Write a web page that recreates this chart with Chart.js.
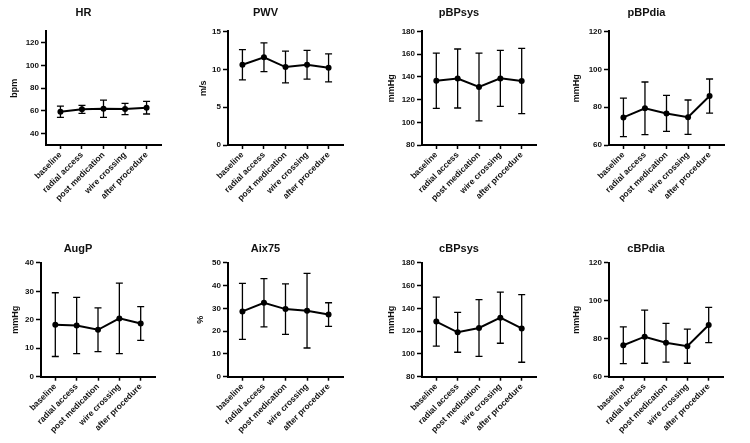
<!DOCTYPE html>
<html><head><meta charset="utf-8">
<script src="https://cdn.jsdelivr.net/npm/chart.js@4.4.1/dist/chart.umd.min.js"></script>
<style>
html,body{margin:0;padding:0;background:#fff;width:750px;height:443px;overflow:hidden}
canvas{position:absolute}
</style></head><body>
<script>
const categories = ['baseline', 'radial access', 'post medication', 'wire crossing', 'after procedure'];

const hrMean = [59.3, 61.4, 62.0, 61.7, 62.9];
const hrSD = [5.0, 3.5, 7.6, 4.9, 5.6];
const hrTicks = [40, 60, 80, 100, 120];

const pwvMean = [10.6, 11.6, 10.3, 10.6, 10.2];
const pwvSD = [2.0, 1.9, 2.1, 1.9, 1.85];
const pwvTicks = [0, 5, 10, 15];

const pbpsysMean = [136.6, 138.6, 131.1, 138.7, 136.4];
const pbpsysSD = [24.3, 26.0, 29.8, 24.6, 28.7];
const pbpsysTicks = [80, 100, 120, 140, 160, 180];

const pbpdiaMean = [74.6, 79.4, 76.7, 74.7, 85.9];
const pbpdiaSD = [10.2, 13.9, 9.5, 9.1, 9.0];
const pbpdiaTicks = [60, 80, 100, 120];

const augpMean = [18.3, 18.0, 16.5, 20.5, 18.7];
const augpSD = [11.2, 9.9, 7.7, 12.4, 5.9];
const augpTicks = [0, 10, 20, 30, 40];

const aixMean = [28.7, 32.5, 29.7, 29.0, 27.3];
const aixSD = [12.3, 10.6, 11.1, 16.4, 5.2];
const aixTicks = [0, 10, 20, 30, 40, 50];

const cbpsysMean = [128.4, 119.0, 122.8, 131.9, 122.4];
const cbpsysSD = [21.5, 17.5, 24.9, 22.5, 29.7];
const cbpsysTicks = [80, 100, 120, 140, 160, 180];

const cbpdiaMean = [76.6, 81.1, 77.9, 76.1, 87.3];
const cbpdiaSD = [9.7, 14.0, 10.2, 9.0, 9.3];
const cbpdiaTicks = [60, 80, 100, 120];

const F = '"Liberation Sans", Arial, Helvetica, sans-serif';

const panels = [
  {title:'HR', yTitle:'bpm', mean:hrMean, sd:hrSD, ticks:hrTicks, min:30, max:130, row:0, axisL:46, axisR:160.5, yDist:31},
  {title:'PWV', yTitle:'m/s', mean:pwvMean, sd:pwvSD, ticks:pwvTicks, min:0, max:15, row:0, axisL:227.7, axisR:343, yDist:24.4},
  {title:'pBPsys', yTitle:'mmHg', mean:pbpsysMean, sd:pbpsysSD, ticks:pbpsysTicks, min:80, max:180, row:0, axisL:421.7, axisR:536, yDist:30.7},
  {title:'pBPdia', yTitle:'mmHg', mean:pbpdiaMean, sd:pbpdiaSD, ticks:pbpdiaTicks, min:60, max:120, row:0, axisL:608.5, axisR:723.3, yDist:32.5},
  {title:'AugP', yTitle:'mmHg', mean:augpMean, sd:augpSD, ticks:augpTicks, min:0, max:40, row:1, axisL:40.7, axisR:155, yDist:25.7},
  {title:'Aix75', yTitle:'%', mean:aixMean, sd:aixSD, ticks:aixTicks, min:0, max:50, row:1, axisL:227.7, axisR:342.7, yDist:27},
  {title:'cBPsys', yTitle:'mmHg', mean:cbpsysMean, sd:cbpsysSD, ticks:cbpsysTicks, min:80, max:180, row:1, axisL:421.7, axisR:536, yDist:30},
  {title:'cBPdia', yTitle:'mmHg', mean:cbpdiaMean, sd:cbpdiaSD, ticks:cbpdiaTicks, min:60, max:120, row:1, axisL:609, axisR:723.3, yDist:32}
];

const rows = [
  {top:0, height:221, titleCenter:13.3, areaTop:31.5, areaBottom:145},
  {top:221, height:222, titleCenter:28.3, areaTop:41.9, areaBottom:155.7}
];

const errorBars = {
  id: 'errorBars',
  beforeDatasetsDraw(chart) {
    const ctx = chart.ctx, xs = chart.scales.x, ys = chart.scales.y;
    const ds = chart.data.datasets[0];
    ctx.save();
    ctx.strokeStyle = '#000';
    ctx.lineWidth = 1.3;
    ds.data.forEach((pt, i) => {
      const x = xs.getPixelForValue(pt.x);
      const yt = ys.getPixelForValue(pt.y + ds.errors[i]);
      const yb = ys.getPixelForValue(pt.y - ds.errors[i]);
      ctx.beginPath();
      ctx.moveTo(x, yt); ctx.lineTo(x, yb);
      ctx.moveTo(x - 3.5, yt); ctx.lineTo(x + 3.5, yt);
      ctx.moveTo(x - 3.5, yb); ctx.lineTo(x + 3.5, yb);
      ctx.stroke();
    });
    ctx.restore();
  }
};

const YW = 40;
panels.forEach(p => {
  const r = rows[p.row];
  const cv = document.createElement('canvas');
  const left = p.axisL - YW;
  const w = Math.round(p.axisR - left + 4);
  cv.width = w; cv.height = r.height;
  cv.style.left = left + 'px'; cv.style.top = r.top + 'px';
  cv.style.width = w + 'px'; cv.style.height = r.height + 'px';
  document.body.appendChild(cv);
  const titleLH = 11 * 1.2;
  const tPadTop = r.titleCenter - titleLH / 2;
  const tPadBottom = r.areaTop - tPadTop - titleLH;
  const xH = r.height - r.areaBottom;
  const yTitleLH = 9 * 1.2;
  const yTitlePad = YW - p.yDist - yTitleLH / 2;
  new Chart(cv, {
    type: 'line',
    data: {
      datasets: [{
        data: p.mean.map((v, i) => ({x: i, y: v})),
        errors: p.sd,
        borderColor: '#000', backgroundColor: '#000', borderWidth: 2,
        pointRadius: 3, pointBackgroundColor: '#000', pointBorderWidth: 0,
        tension: 0
      }]
    },
    options: {
      responsive: false, animation: false, devicePixelRatio: 1,
      layout: {padding: {left: 0, right: 4, top: 0, bottom: 0}},
      plugins: {
        legend: {display: false}, tooltip: {enabled: false},
        title: {display: true, text: p.title, color: '#111',
          font: {family: F, size: 11, weight: 'bold', lineHeight: 1.2},
          padding: {top: tPadTop, bottom: tPadBottom}}
      },
      scales: {
        x: {
          type: 'linear', min: -0.67, max: 4.67,
          afterBuildTicks: s => { s.ticks = categories.map((c, i) => ({value: i})); },
          afterFit: s => { s.height = xH; },
          grid: {drawOnChartArea: false, drawTicks: true, tickLength: 4, tickWidth: 1.5, tickColor: '#000'},
          border: {display: true, color: '#000', width: 2},
          ticks: {callback: (v, i) => categories[i], minRotation: 45, maxRotation: 45, autoSkip: false,
            font: {family: F, size: 8.5, weight: 'bold'}, color: '#111', padding: 1}
        },
        y: {
          min: p.min, max: p.max,
          afterBuildTicks: s => { s.ticks = p.ticks.map(v => ({value: v})); },
          afterFit: s => { s.width = YW; },
          grid: {drawOnChartArea: false, drawTicks: true, tickLength: 5, tickWidth: 1.5, tickColor: '#000'},
          border: {display: true, color: '#000', width: 2},
          ticks: {font: {family: F, size: 8, weight: 'bold'}, color: '#111', padding: 2},
          title: {display: true, text: p.yTitle, color: '#111',
            font: {family: F, size: 9, weight: 'bold', lineHeight: 1.2},
            padding: {top: yTitlePad, bottom: 0}}
        }
      }
    },
    plugins: [errorBars]
  });
});
</script>
</body></html>
